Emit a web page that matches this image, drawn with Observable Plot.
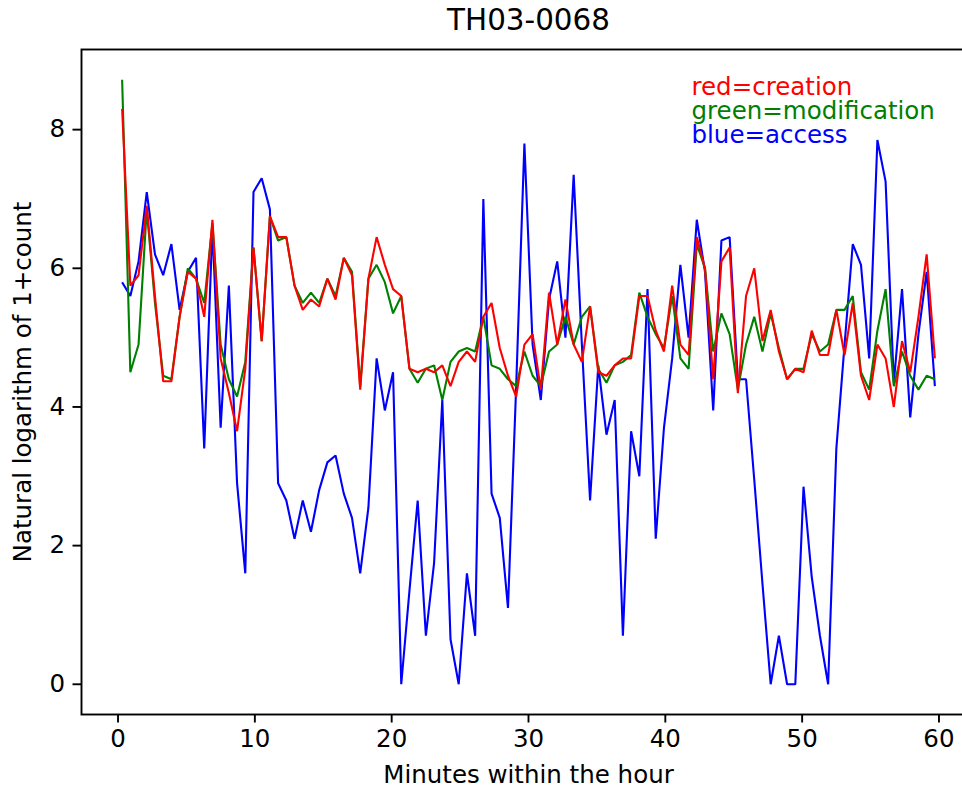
<!DOCTYPE html>
<html><head><meta charset="utf-8">
<script src="https://cdn.jsdelivr.net/npm/d3@7"></script>
<script src="https://cdn.jsdelivr.net/npm/@observablehq/plot@0.6"></script>
<style>
html,body{margin:0;padding:0;background:#fff;}
#chart{width:962px;height:790px;overflow:hidden;position:relative;}
#chart svg{display:block;max-width:none !important;}
</style></head><body><div id="chart"></div>
<script>
const title = "TH03-0068";
const xLabel = "Minutes within the hour";
const yLabel = "Natural logarithm of 1+count";
const xTicks = [0, 10, 20, 30, 40, 50, 60];
const yTicks = [0, 2, 4, 6, 8];
const legendLines = ["red=creation", "green=modification", "blue=access"];
const legendColors = ["red", "green", "blue"];

const minutes = [0.3,0.9,1.5,2.1,2.7,3.3,3.9,4.5,5.1,5.7,6.3,6.9,7.5,8.1,8.7,9.3,9.9,10.5,11.1,11.7,
12.3,12.9,13.5,14.1,14.7,15.3,15.9,16.5,17.1,17.7,18.3,18.9,19.5,20.1,20.7,21.3,21.9,22.5,23.1,23.7,
24.3,24.9,25.5,26.1,26.7,27.3,27.9,28.5,29.1,29.7,30.3,30.9,31.5,32.1,32.7,33.3,33.9,34.5,35.1,35.7,
36.3,36.9,37.5,38.1,38.7,39.3,39.9,40.5,41.1,41.7,42.3,42.9,43.5,44.1,44.7,45.3,45.9,46.5,47.1,47.7,
48.3,48.9,49.5,50.1,50.7,51.3,51.9,52.5,53.1,53.7,54.3,54.9,55.5,56.1,56.7,57.3,57.9,58.5,59.1,59.7];

const access = [5.8,5.6,6.1,7.1,6.2,5.9,6.35,5.4,5.95,6.15,
3.4,6.6,3.7,5.75,2.9,1.6,7.1,7.3,6.85,2.9,
2.65,2.1,2.65,2.2,2.8,3.2,3.3,2.75,2.4,1.6,
2.55,4.7,3.95,4.5,0,1.35,2.65,0.7,1.75,4.1,
0.65,0,1.6,0.7,7.0,2.75,2.4,1.1,4.3,7.8,
4.9,4.1,5.55,6.1,5.0,7.35,4.9,2.65,4.6,3.6,
4.1,0.7,3.65,3.0,5.7,2.1,3.7,4.7,6.05,5.0,
6.7,5.95,3.95,6.4,6.45,4.4,4.4,2.95,1.45,0,
0.7,0,0,2.85,1.55,0.7,0,3.4,4.9,6.35,
6.05,4.7,7.85,7.25,4.35,5.7,3.85,5.05,5.95,4.3];

const creation = [8.3,5.75,5.9,6.9,5.6,4.37,4.37,5.3,5.95,5.85,
5.3,6.7,4.7,4.2,3.65,4.55,6.3,4.95,6.75,6.45,
6.45,5.75,5.4,5.55,5.45,5.85,5.55,6.15,5.9,4.25,
5.85,6.45,6.05,5.7,5.6,4.55,4.5,4.55,4.5,4.6,
4.3,4.65,4.8,4.65,5.3,5.5,4.85,4.45,4.15,4.9,
5.05,4.25,5.65,4.9,5.55,4.9,4.65,5.45,4.5,4.45,
4.6,4.7,4.7,5.6,5.6,5.1,4.8,5.75,4.9,4.75,
6.45,6.0,4.4,6.1,6.3,4.2,5.6,6.0,4.95,5.4,
4.8,4.4,4.55,4.5,5.1,4.75,4.75,5.4,4.75,5.5,
4.45,4.1,4.9,4.7,4.0,4.95,4.5,5.3,6.2,4.7];

const modification = [8.72,4.5,4.9,6.85,5.5,4.45,4.4,5.3,6.0,5.85,
5.5,6.65,4.9,4.4,4.15,4.65,6.3,4.95,6.75,6.4,
6.45,5.75,5.5,5.65,5.5,5.85,5.6,6.15,5.95,4.3,
5.85,6.05,5.8,5.35,5.6,4.55,4.35,4.55,4.6,4.1,
4.65,4.8,4.85,4.8,5.3,4.6,4.55,4.4,4.3,4.8,
4.45,4.3,4.8,4.9,5.3,4.9,5.3,5.45,4.55,4.35,
4.6,4.65,4.75,5.65,5.3,5.05,4.85,5.6,4.7,4.55,
6.35,6.0,4.8,5.35,5.05,4.25,4.9,5.3,4.8,5.35,
4.85,4.4,4.55,4.55,5.05,4.8,4.9,5.4,5.4,5.6,
4.5,4.25,5.1,5.7,4.3,4.8,4.45,4.25,4.45,4.4];

const seriesOrder = [
  {name: "access", values: access, color: "blue"},
  {name: "modification", values: modification, color: "green"},
  {name: "creation", values: creation, color: "red"}
];
const rows = seriesOrder.flatMap(s => minutes.map((t, i) => ({t, v: s.values[i], series: s.name})));

const font = "DejaVu Sans";
const fs = 24.5;
const chart = Plot.plot({
  width: 975, height: 790,
  marginLeft: 81, marginRight: 0, marginTop: 49, marginBottom: 76,
  style: {fontFamily: font, fontSize: fs + "px", background: "white", color: "black", overflow: "visible"},
  x: {domain: [-2.67, 62.67]},
  y: {domain: [-0.436, 9.156]},
  color: {domain: seriesOrder.map(s => s.name), range: seriesOrder.map(s => s.color)},
  marks: [
    Plot.line(rows, {x: "t", y: "v", z: "series", stroke: "series", strokeWidth: 2.1, strokeLinejoin: "miter", strokeLinecap: "butt"}),
    Plot.frame({stroke: "black", strokeWidth: 1.9}),
    Plot.axisX({ticks: xTicks, tickFormat: d => String(d), tickSize: 8.5, tickPadding: 7, strokeWidth: 1.9, fontSize: fs, label: null}),
    Plot.axisY({ticks: yTicks, tickFormat: d => String(d), tickSize: 8.5, tickPadding: 8, strokeWidth: 1.9, fontSize: fs, label: null}),
    Plot.text([xLabel], {frameAnchor: "bottom", lineAnchor: "middle", dy: 61, text: d => d, fontSize: fs, fill: "black"}),
    Plot.text([yLabel], {frameAnchor: "left", lineAnchor: "middle", textAnchor: "middle", dx: -58, rotate: -90, text: d => d, fontSize: fs, fill: "black"}),
    Plot.text([title], {frameAnchor: "top", lineAnchor: "middle", dy: -29, text: d => d, fontSize: 29.4, fill: "black"}),
    ...legendLines.map((line, i) => Plot.text([line], {
      frameAnchor: "top-left", lineAnchor: "middle", textAnchor: "start",
      dx: 610, dy: 38 + i * 24, text: d => d, fontSize: fs, fill: legendColors[i]
    }))
  ]
});
document.getElementById("chart").appendChild(chart);
</script></body></html>
